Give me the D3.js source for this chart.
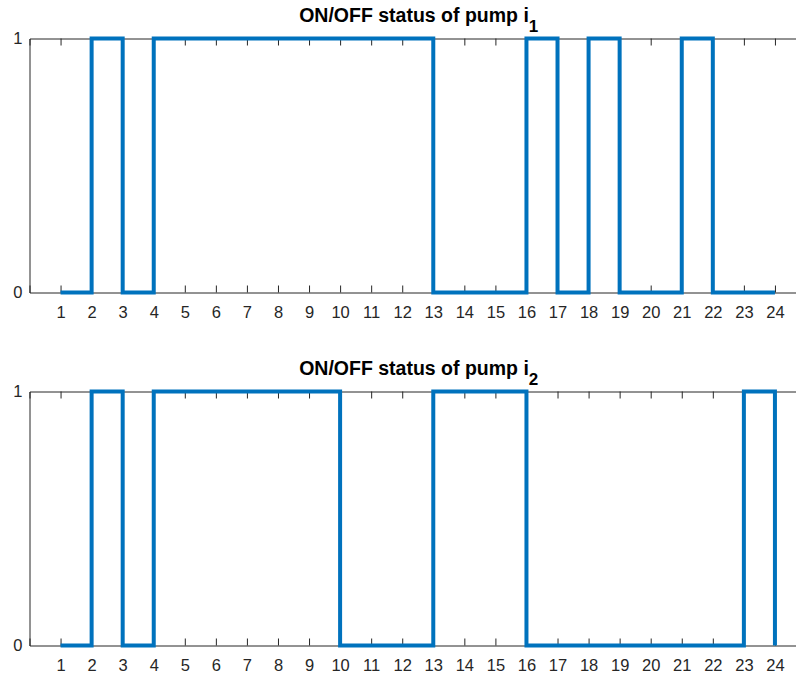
<!DOCTYPE html>
<html>
<head>
<meta charset="utf-8">
<script src="https://cdn.jsdelivr.net/npm/d3@7"></script>
<style>
  body { margin: 0; background: #fff; }
  text { font-family: 'Liberation Sans', Arial, sans-serif; fill: #262626; }
</style>
</head>
<body>
<svg id="chart" width="796" height="677"></svg>
<script>
//////////////////////////////////////////////////////////////////////////////////////////
// Data
//////////////////////////////////////////////////////////////////////////////////////////
var hours = d3.range(1, 25)
var pump_1 = [0, 1, 0, 1, 1, 1, 1, 1, 1, 1, 1, 1, 0, 0, 0, 1, 0, 1, 0, 0, 1, 0, 0, 0]
var pump_2 = [0, 1, 0, 1, 1, 1, 1, 1, 1, 0, 0, 0, 1, 1, 1, 0, 0, 0, 0, 0, 0, 0, 1, 0]
var y_ticks = [0, 1]
var panels = [
  { 'sub': '1', 'values': pump_1, 'top': 38.5, 'bottom': 292.5 },
  { 'sub': '2', 'values': pump_2, 'top': 391.5, 'bottom': 645.5 }
]

//////////////////////////////////////////////////////////////////////////////////////////
// Drawing
//////////////////////////////////////////////////////////////////////////////////////////
var svg = d3.select('#chart')
var x = d3.scaleLinear().domain([0, 25]).range([29.5, 806])

panels.forEach(function(p, i) { draw_panel(p, i) })

function draw_panel(p, i) {
  var y = d3.scaleLinear().domain([0, 1]).range([p.bottom, p.top])
  var g = svg.append('g').attr('id', 'g-panel-' + i)

  // bottom axis, ticks pointing inward
  var gx = g.append('g')
    .attr('transform', 'translate(0,' + p.bottom + ')')
    .call(d3.axisBottom(x).tickValues(hours).tickSize(-7).tickPadding(14).tickFormat(d3.format('d')))
  style_axis(gx)

  // top axis
  var gt = g.append('g')
    .attr('transform', 'translate(0,' + p.top + ')')
    .call(d3.axisTop(x).tickValues(hours).tickSize(-7).tickFormat(''))
  style_axis(gt)

  // left axis
  var gy = g.append('g')
    .attr('transform', 'translate(' + x(0) + ',0)')
    .call(d3.axisLeft(y).tickValues(y_ticks).tickSize(0).tickPadding(7).tickFormat(d3.format('d')))
  style_axis(gy)

  // stairs line
  var line = d3.line()
    .x(function(d, k) { return x(hours[k]) })
    .y(function(d) { return y(d) })
    .curve(d3.curveStepAfter)

  g.append('path')
    .datum(p.values)
    .attr('d', line)
    .attr('fill', 'none')
    .attr('stroke', '#0072BD')
    .attr('stroke-width', 4)
    .attr('stroke-linejoin', 'miter')

  // title
  var title = g.append('text')
    .attr('x', (x(0) + x(25)) / 2 + 1)
    .attr('y', p.top - 17)
    .attr('text-anchor', 'middle')
    .attr('font-size', 19.5)
    .attr('font-weight', 'bold')
    .style('fill', '#000')
  title.append('tspan').text('ON/OFF status of pump i')
  title.append('tspan').attr('dy', 10).attr('font-size', 17).text(p.sub)
}

function style_axis(sel) {
  sel.select('.domain').attr('stroke', '#262626').attr('stroke-width', 1)
  sel.selectAll('.tick line').attr('stroke', '#262626').attr('stroke-width', 1)
  sel.selectAll('.tick text')
    .attr('font-size', 16.5)
    .attr('font-family', 'Liberation Sans, Arial, sans-serif')
    .style('fill', '#262626')
}
</script>
</body>
</html>
